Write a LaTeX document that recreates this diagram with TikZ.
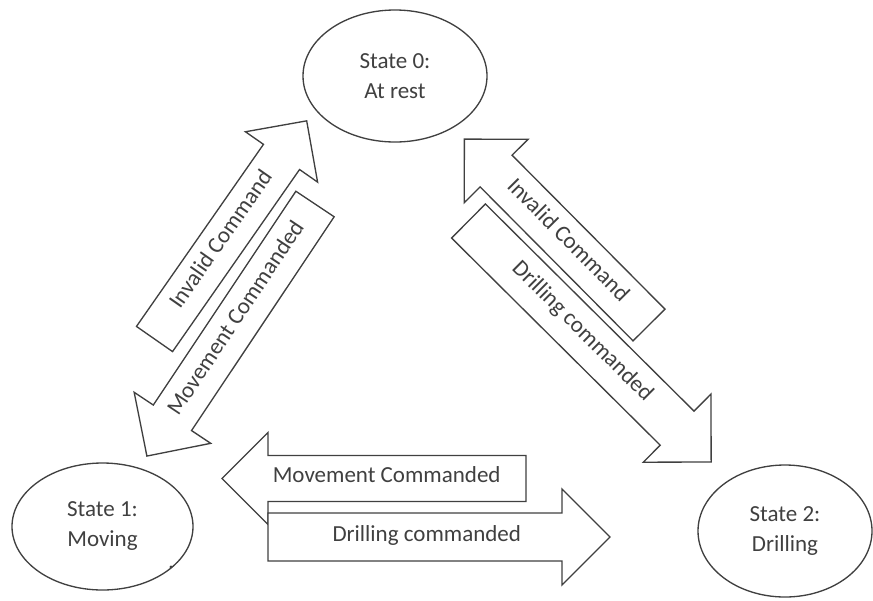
\documentclass[tikz,border=0pt]{standalone}
\usepackage{fontspec}
\setmainfont{Carlito}
\usetikzlibrary{shapes.geometric}
\definecolor{ink}{HTML}{404040}
\tikzset{
  state/.style={draw=ink,line width=1pt,ellipse,inner sep=0pt,align=center,text=ink},
  blockarrow/.style={draw=ink,line width=1pt,fill=white,line join=miter},
  arrow text/.style={text=ink,inner sep=0pt,text height=0.65em,text depth=0pt},
}
\begin{document}
\begin{tikzpicture}[x=0.75pt,y=-0.75pt,font=\fontsize{17.25}{22.5}\selectfont]
\useasboundingbox(0,0)rectangle(873,600);
% name, tail, angle, length, shaft width, text
\newcommand{\blockarrow}[6]{%
  \begin{scope}[shift={#2},rotate=#3]
    \pgfmathsetmacro{\halfw}{#5/2}
    \pgfmathsetmacro{\shaftlen}{#4-#5}
    \pgfmathsetmacro{\txtrot}{mod(#3+450,180)-90}
    \draw[blockarrow](0,-\halfw)--(\shaftlen,-\halfw)--(\shaftlen,-#5)--(#4,0)
      --(\shaftlen,#5)--(\shaftlen,\halfw)--(0,\halfw)--cycle;
    \node[arrow text,rotate=\txtrot](#1)at(0.54*\shaftlen,0){#6};
  \end{scope}}
% states
\node[state,minimum width=138pt,minimum height=99pt](s0)at(395,76){State 0:\\At rest};
\node[state,minimum width=135.75pt,minimum height=95.25pt](s1)at(102.5,526.5){State 1:\\Moving};
\node[state,minimum width=130.5pt,minimum height=99pt](s2)at(785,531){State 2:\\Drilling};
\fill[ink](171,567)circle(1.6);
% transitions
\blockarrow{inv10}{(154.5,339)}{55.1}{266}{44}{Invalid Command}
\blockarrow{mov01}{(315,204)}{236.3}{303}{46}{Movement Commanded}
\blockarrow{inv20}{(649,325)}{134.8}{262}{45}{Invalid Command}
\blockarrow{dri02}{(468.5,221)}{-44.8}{342}{48}{Drilling commanded}
\blockarrow{mov21}{(526,478.5)}{180}{304}{46}{Movement Commanded}
\blockarrow{dri12}{(268,537)}{0}{342}{48}{Drilling commanded}
\end{tikzpicture}
\end{document}
